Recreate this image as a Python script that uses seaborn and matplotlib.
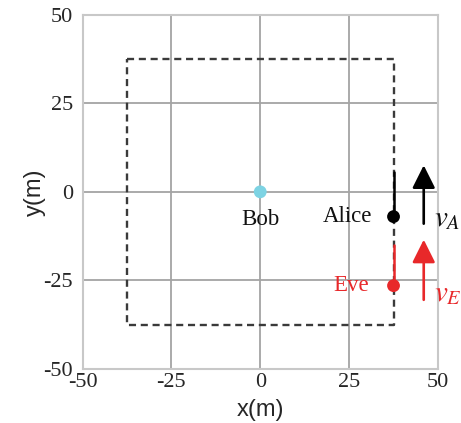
import matplotlib
matplotlib.use("Agg")
import matplotlib.pyplot as plt
import seaborn as sns
import pandas as pd

# Data
names = ["Bob", "Alice", "Eve"]
xs = [0.0, 37.5, 37.5]
ys = [0.0, -7.0, -26.5]
colors = ["#7dd3e3", "#000000", "#e8282a"]
square_half = 37.5
ticks = [-50, -25, 0, 25, 50]
alice_seg = [5.5, -7.0]
eve_seg = [-15.0, -26.5]
arrow_x = 46.0
arrow_A = [-9.0, 7.5]
arrow_E = [-30.5, -13.5]

sns.set_style("white")
plt.rcParams["mathtext.fontset"] = "stix"

fig = plt.figure(figsize=(4.61, 4.23), dpi=100)
ax = fig.add_axes([0.179, 0.128, 0.771, 0.837])

ax.set_xlim(-50, 50)
ax.set_ylim(-50, 50)

# dashed square
h = square_half
ax.plot([-h, h, h, -h, -h], [h, h, -h, -h, h], color="#3a3a3a", lw=1.7,
        dashes=(3, 2), zorder=2)

# solid segments
ax.plot([xs[1], xs[1]], alice_seg, color="#000000", lw=1.8, zorder=3)
ax.plot([xs[2], xs[2]], eve_seg, color=colors[2], lw=1.8, zorder=3)

df = pd.DataFrame({"x": xs, "y": ys, "name": names})
sns.scatterplot(data=df, x="x", y="y", hue="name", palette=dict(zip(names, colors)),
                s=85, edgecolor="none", legend=False, ax=ax, zorder=4)

ax.set_xticks(ticks)
ax.set_yticks(ticks)
ax.set_xticklabels([str(t) for t in ticks], fontfamily="Liberation Serif", fontsize=16)
ax.set_yticklabels([str(t) for t in ticks], fontfamily="Liberation Serif", fontsize=16)
ax.tick_params(axis="x", length=0, pad=3)
ax.tick_params(axis="y", length=0, pad=7)
ax.grid(True, color="#a4a4a4", linewidth=1.3)
ax.set_axisbelow(True)
for s in ax.spines.values():
    s.set_color("#c8c8c8")
    s.set_linewidth(1.5)

ax.set_xlabel("x(m)", fontfamily="Liberation Sans", fontsize=17, labelpad=5)
ax.set_ylabel("y(m)", fontfamily="Liberation Sans", fontsize=17, labelpad=-2)

# labels
ax.text(xs[0], ys[0] - 7.8, "Bob", ha="center", va="center",
        fontfamily="Liberation Serif", fontsize=16.5, color="#111111")
ax.text(31.5, ys[1], "Alice", ha="right", va="center",
        fontfamily="Liberation Serif", fontsize=16.5, color="#111111")
ax.text(30.5, ys[2], "Eve", ha="right", va="center",
        fontfamily="Liberation Serif", fontsize=16.5, color=colors[2])

# arrows
for (y0, y1), c in [(arrow_A, "#000000"), (arrow_E, colors[2])]:
    ax.annotate("", xy=(arrow_x, y1), xytext=(arrow_x, y0),
                arrowprops=dict(arrowstyle="-|>,head_length=1.4,head_width=0.7",
                                color=c, lw=1.9, shrinkA=0, shrinkB=0),
                annotation_clip=False)

ax.text(48.8, -7.5, r"$v_A$", ha="left", va="center", fontsize=21,
        color="#111111", clip_on=False)
ax.text(48.8, -28.5, r"$v_E$", ha="left", va="center", fontsize=21,
        color=colors[2], clip_on=False)

fig.savefig("out.png", dpi=100)
